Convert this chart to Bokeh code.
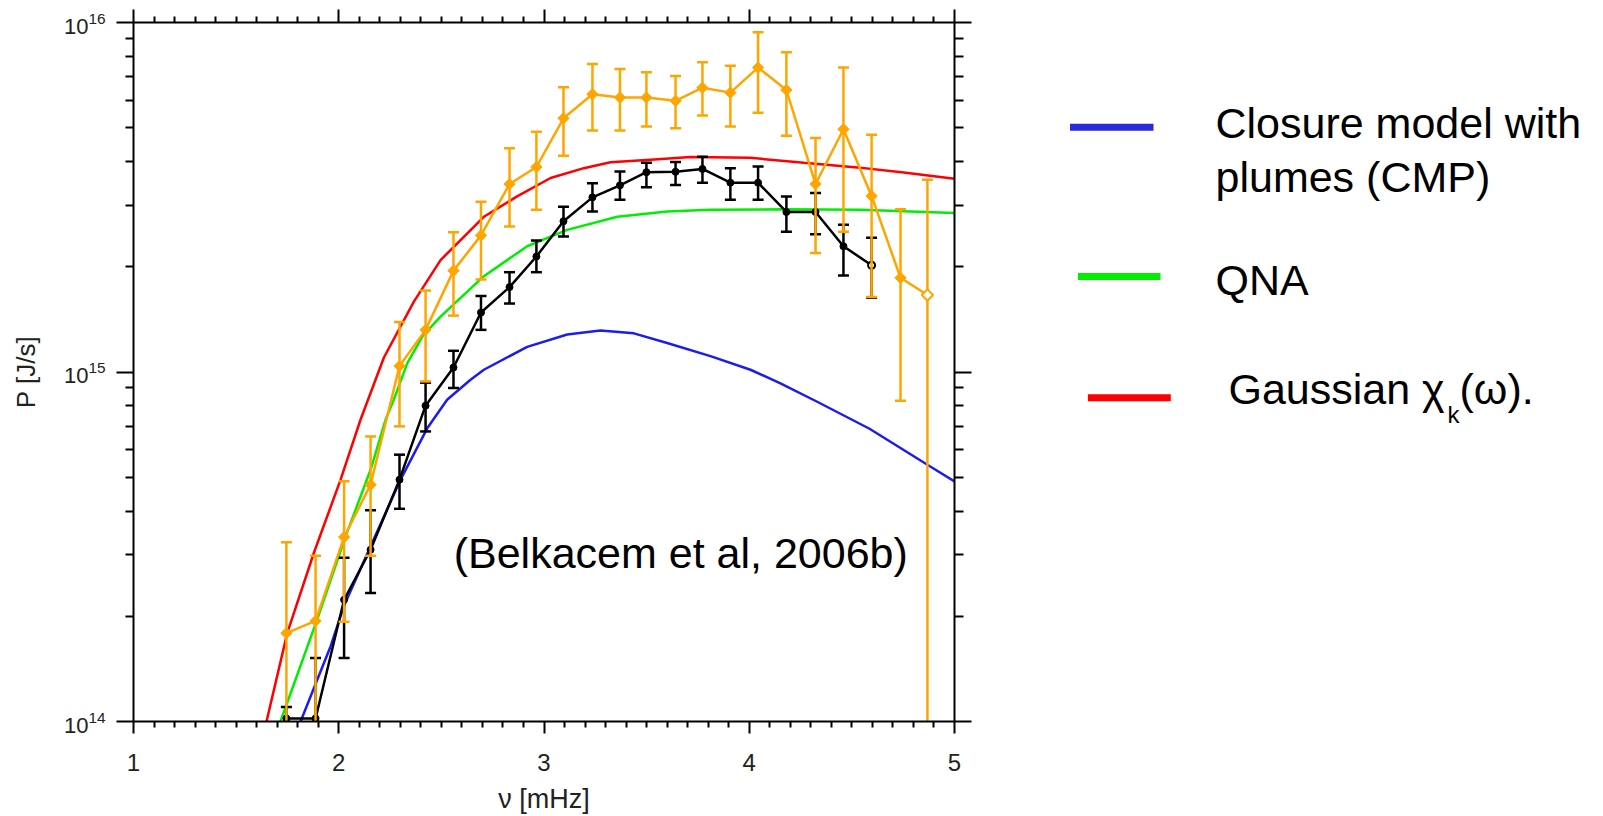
from bokeh.plotting import figure
from bokeh.models import (Range1d, FixedTicker, LogTickFormatter, LinearAxis, LogAxis,
                          ColumnDataSource, Label, CustomJSTickFormatter)
from bokeh.layouts import row
from bokeh.embed import file_html
from bokeh.resources import INLINE
from bokeh.core.properties import value

FONT = "Liberation Sans"

# ---------------- data ----------------
nu_obs = [1.745, 1.887, 2.026, 2.155, 2.296, 2.423, 2.559, 2.693, 2.832, 2.963, 3.095, 3.236,
          3.370, 3.499, 3.641, 3.772, 3.908, 4.043, 4.181, 4.323, 4.459, 4.596, 4.737, 4.868]

# orange observations (diamonds)
p_orange = [1.79e14, 1.94e14, 3.37e14, 4.76e14, 1.04e15, 1.32e15, 1.95e15, 2.46e15, 3.45e15, 3.86e15,
            5.32e15, 6.23e15, 6.10e15, 6.10e15, 5.97e15, 6.51e15, 6.30e15, 7.43e15, 6.41e15, 3.45e15,
            4.95e15, 3.19e15, 1.86e15, 1.66e15]
p_orange_hi = [3.26e14, 2.98e14, 4.87e14, 6.54e14, 1.39e15, 1.71e15, 2.51e15, 3.07e15, 4.37e15, 4.87e15,
               6.53e15, 7.61e15, 7.36e15, 7.21e15, 7.03e15, 7.70e15, 7.52e15, 9.38e15, 8.22e15, 4.67e15,
               7.44e15, 4.77e15, 2.92e15, 3.55e15]
p_orange_lo = [0.6e14, 0.7e14, 1.93e14, 2.98e14, 6.99e14, 9.40e14, 1.45e15, 1.84e15, 2.61e15, 2.91e15,
               4.16e15, 4.91e15, 4.91e15, 5.04e15, 4.98e15, 5.42e15, 5.04e15, 5.52e15, 4.74e15, 2.19e15,
               2.52e15, 1.64e15, 8.28e14, 0.5e14]

# black observations (dots)
nu_black = nu_obs[:22]
p_black = [1.02e14, 1.02e14, 2.23e14, 3.10e14, 4.92e14, 8.01e14, 1.03e15, 1.48e15, 1.75e15, 2.14e15,
           2.70e15, 3.16e15, 3.42e15, 3.73e15, 3.74e15, 3.81e15, 3.48e15, 3.48e15, 2.87e15, 2.87e15,
           2.29e15, 2.02e15]
p_black_hi = [1.1e14, 1.52e14, 2.94e14, 4.02e14, 5.80e14, 9.32e14, 1.15e15, 1.65e15, 1.93e15, 2.38e15,
              2.97e15, 3.47e15, 3.75e15, 3.97e15, 3.99e15, 4.13e15, 3.83e15, 3.87e15, 3.18e15, 3.25e15,
              2.64e15, 2.42e15]
p_black_lo = [0.9e14, 0.7e14, 1.52e14, 2.33e14, 4.06e14, 6.76e14, 9.00e14, 1.32e15, 1.57e15, 1.93e15,
              2.44e15, 2.88e15, 3.11e15, 3.38e15, 3.43e15, 3.48e15, 3.11e15, 3.11e15, 2.52e15, 2.48e15,
              1.89e15, 1.63e15]

# model curves
red_nu = [1.648, 1.749, 1.879, 2.009, 2.106, 2.220, 2.366, 2.496, 2.707, 2.869, 3.032, 3.194, 3.324,
          3.519, 3.714, 4.006, 4.266, 4.526, 4.753, 5.0]
red_p = [1.0e14, 1.79e14, 3.04e14, 4.92e14, 7.30e14, 1.10e15, 1.59e15, 2.09e15, 2.78e15, 3.18e15,
         3.59e15, 3.83e15, 3.98e15, 4.05e15, 4.12e15, 4.10e15, 3.97e15, 3.85e15, 3.72e15, 3.57e15]

green_nu = [1.716, 1.895, 2.033, 2.155, 2.228, 2.268, 2.334, 2.410, 2.496, 2.707, 2.918, 3.113,
            3.357, 3.600, 3.811, 4.168, 4.542, 5.0]
green_p = [1.0e14, 1.96e14, 3.38e14, 5.25e14, 7.30e14, 8.33e14, 1.06e15, 1.27e15, 1.44e15, 1.88e15,
           2.29e15, 2.55e15, 2.78e15, 2.88e15, 2.91e15, 2.92e15, 2.91e15, 2.85e15]

blue_nu = [1.814, 1.960, 2.025, 2.155, 2.301, 2.431, 2.528, 2.642, 2.707, 2.918, 3.113, 3.275,
           3.438, 3.600, 3.811, 4.006, 4.152, 4.331, 4.586, 4.868, 5.0]
blue_p = [1.0e14, 1.64e14, 2.14e14, 3.17e14, 4.92e14, 6.90e14, 8.33e14, 9.50e14, 1.015e15, 1.18e15,
          1.28e15, 1.315e15, 1.29e15, 1.21e15, 1.11e15, 1.015e15, 9.28e14, 8.22e14, 6.88e14, 5.43e14,
          4.86e14]

# axes
X_MAJOR = [1, 2, 3, 4, 5]
Y_MAJOR = [1e14, 1e15, 1e16]
X_LABEL = "ν [mHz]"
Y_LABEL = "P [J/s]"
NOTE = "(Belkacem et al, 2006b)"
LEGEND_TEXT = ["Closure model with", "plumes (CMP)", "QNA", "Gaussian χ", "k", "(ω)."]

# colours
C_RED, C_GREEN, C_BLUE = "#ff0000", "#00ee00", "#1c1cf0"
C_ORANGE, C_BLACK = "#ffa500", "#000000"

X_MINOR = [m / 10 for m in range(10, 51) if m % 10 != 0]
Y_MINOR = [k * 10.0 ** e for e in (14, 15) for k in range(2, 10)]

H = 816
TOP, BOTTOM = 22, 722

# ---------------- main plot ----------------
p = figure(width=994, height=H, x_range=Range1d(1, 5), y_range=Range1d(1e14, 1e16),
           y_axis_type="log", output_backend="svg", toolbar_location=None,
           min_border_left=133, min_border_right=40, min_border_top=TOP,
           min_border_bottom=H - BOTTOM, x_axis_label=X_LABEL, y_axis_label=Y_LABEL)
p.outline_line_color = None
p.grid.visible = False

xt = FixedTicker(ticks=X_MAJOR, minor_ticks=X_MINOR)
yt = FixedTicker(ticks=Y_MAJOR, minor_ticks=Y_MINOR)


def style(ax, major_out, minor_out):
    ax.axis_line_width = 2
    ax.axis_line_color = "black"
    ax.major_tick_line_width = 2
    ax.minor_tick_line_width = 2
    ax.major_tick_line_color = "black"
    ax.minor_tick_line_color = "black"
    ax.major_tick_in = 0
    ax.minor_tick_in = 0
    ax.major_tick_out = major_out
    ax.minor_tick_out = minor_out


xa = p.xaxis[0]
xa.ticker = xt
style(xa, 12, 6)
xa.major_label_text_font = FONT
xa.major_label_text_font_size = "24px"
xa.major_label_text_color = "#222222"
xa.major_label_standoff = 20
xa.axis_label_text_font = FONT
xa.axis_label_text_font_size = "27px"
xa.axis_label_text_font_style = "normal"
xa.axis_label_text_color = "#222222"
xa.axis_label_standoff = 10

ya = p.yaxis[0]
ya.ticker = yt
ya.formatter = LogTickFormatter()
style(ya, 17, 8)
ya.major_label_text_font = FONT
ya.major_label_text_font_size = "22px"
ya.major_label_text_color = "#222222"
ya.major_label_standoff = 11
ya.axis_label_text_font = FONT
ya.axis_label_text_font_size = "26px"
ya.axis_label_text_font_style = "normal"
ya.axis_label_text_color = "#222222"
ya.axis_label_standoff = 20

blank = CustomJSTickFormatter(code="return ''")
top = LinearAxis(ticker=xt, formatter=blank, major_label_standoff=0,
                 major_label_text_font_size="10px")
style(top, 13, 6)
p.add_layout(top, "above")
right = LogAxis(ticker=yt, formatter=blank, major_label_standoff=0,
                major_label_text_font_size="10px")
style(right, 17, 9)
p.add_layout(right, "right")

# model curves
p.line(red_nu, red_p, line_color=C_RED, line_width=2.5)
p.line(green_nu, green_p, line_color=C_GREEN, line_width=2.5)
p.line(blue_nu, blue_p, line_color=C_BLUE, line_width=2.5)

# black observations
bsrc = ColumnDataSource(dict(x=nu_black, y=p_black, hi=p_black_hi, lo=p_black_lo))
p.line("x", "y", source=bsrc, line_color=C_BLACK, line_width=2.5)
p.segment(x0="x", y0="lo", x1="x", y1="hi", source=bsrc, line_color=C_BLACK, line_width=2.5)
p.scatter("x", "hi", source=bsrc, marker="dash", size=11, line_color=C_BLACK, line_width=2.5)
p.scatter("x", "lo", source=bsrc, marker="dash", size=11, line_color=C_BLACK, line_width=2.5)
p.scatter(nu_black[:-1], p_black[:-1], marker="circle", size=7, fill_color=C_BLACK,
          line_color=C_BLACK)
p.scatter(nu_black[-1:], p_black[-1:], marker="circle", size=7, fill_color="white",
          line_color=C_BLACK, line_width=2)

# orange observations
osrc = ColumnDataSource(dict(x=nu_obs, y=p_orange, hi=p_orange_hi, lo=p_orange_lo))
p.line("x", "y", source=osrc, line_color=C_ORANGE, line_width=2.5)
p.segment(x0="x", y0="lo", x1="x", y1="hi", source=osrc, line_color=C_ORANGE, line_width=2.5)
p.scatter("x", "hi", source=osrc, marker="dash", size=11, line_color=C_ORANGE, line_width=2.5)
p.scatter("x", "lo", source=osrc, marker="dash", size=11, line_color=C_ORANGE, line_width=2.5)
p.scatter(nu_obs[:-1], p_orange[:-1], marker="square", angle=0.785398, size=8,
          fill_color=C_ORANGE, line_color=C_ORANGE)
p.scatter(nu_obs[-1:], p_orange[-1:], marker="square", angle=0.785398, size=8,
          fill_color="white", line_color=C_ORANGE, line_width=2)

p.add_layout(Label(x=2.56, y=3.03e14, text=NOTE, text_font=FONT, text_font_size="43px",
                   text_baseline="middle", text_align="left", text_color="black"))

# ---------------- legend panel (y in page pixels; frame aligned with main frame) ----------------
LW = 1603 - 994
leg = figure(width=LW, height=H, x_range=Range1d(0, LW), y_range=Range1d(BOTTOM, TOP),
             output_backend="svg", toolbar_location=None, min_border=0,
             min_border_top=TOP, min_border_bottom=H - BOTTOM,
             x_axis_location=None, y_axis_location=None)
leg.outline_line_color = None
leg.grid.visible = False

sw_x0 = [75.5, 83.5, 93.4]
sw_x1 = [159.0, 166.0, 176.3]
sw_y = [127.0, 276.3, 397.8]
leg.segment(x0=sw_x0, y0=sw_y, x1=sw_x1, y1=sw_y, line_color=["#2a2ad8", "#00ee00", "#ff0000"],
            line_width=7)

leg.text(x=[221, 221, 221, 234], y=[122.5, 177.0, 280.0, 389.0], text=LEGEND_TEXT[:4],
         text_font=value(FONT), text_font_size="43px", text_baseline="middle",
         text_align="left", text_color="black")
leg.text(x=[453.0], y=[415.0], text=[LEGEND_TEXT[4]], text_font=value(FONT),
         text_font_size="24px", text_baseline="middle", text_align="left", text_color="black")
leg.text(x=[465.0], y=[389.0], text=[LEGEND_TEXT[5]], text_font=value(FONT),
         text_font_size="43px", text_baseline="middle", text_align="left", text_color="black")

layout = row(p, leg)
open("out.html", "w").write(file_html(layout, INLINE))
